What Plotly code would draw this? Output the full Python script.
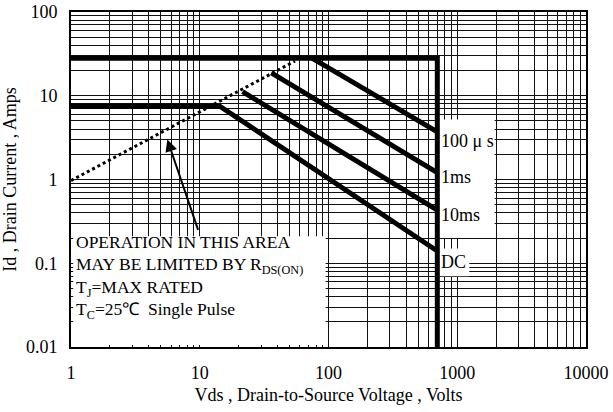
import math
import plotly.graph_objects as go

# ---- data ----
env_x = [1, 700, 700]          # outer limit: Id max (pulsed) and BVdss
env_y = [28, 28, 0.01]
dc_x = [1, 14.3, 700]
dc_y = [7.5, 7.5, 0.14]
us100_x = [75, 700]
us100_y = [28, 3.7]
ms1_x = [36, 700]
ms1_y = [18.8, 1.21]
ms10_x = [21.5, 700]
ms10_y = [11.2, 0.43]
rds_x = [1, 55]
rds_y = [0.97, 26]

curve_labels = ["100 μ s", "1ms", "10ms", "DC"]
curve_label_y = [2.9, 1.06, 0.38, 0.103]

x_major = [1, 10, 100, 1000, 10000]
x_major_text = ["1", "10", "100", "1000", "10000"]
y_major = [0.01, 0.1, 1, 10, 100]
y_major_text = ["0.01", "0.1", "1", "10", "100"]

box_lines = [
    "OPERATION IN THIS AREA",
    "MAY BE LIMITED BY R<sub>DS(ON)</sub>",
    "T<sub>J</sub>=MAX RATED",
    "T<sub>C</sub>=25℃  Single Pulse",
]
box_line_y = [0.178, 0.095, 0.050, 0.027]

FONT = "Liberation Serif, Times New Roman, serif"


def minors(majors):
    vals = []
    for m in majors[:-1]:
        for k in range(2, 10):
            vals.append(m * k)
    return vals


fig = go.Figure()
thick = dict(color="black", width=5)
for xs, ys in [(env_x, env_y), (dc_x, dc_y), (us100_x, us100_y),
               (ms1_x, ms1_y), (ms10_x, ms10_y)]:
    fig.add_trace(go.Scatter(x=xs, y=ys, mode="lines", line=thick,
                             showlegend=False, hoverinfo="skip"))
fig.add_trace(go.Scatter(x=rds_x, y=rds_y, mode="lines",
                         line=dict(color="black", width=3, dash="dot"),
                         showlegend=False, hoverinfo="skip"))

shapes = [
    dict(type="rect", xref="x", yref="y", x0=1.04, x1=95, y0=0.0106, y1=0.21,
         fillcolor="white", line=dict(width=0), layer="between"),
    dict(type="rect", xref="x", yref="y", x0=710, x1=1950, y0=0.20, y1=5.2,
         fillcolor="white", line=dict(width=0), layer="between"),
    dict(type="rect", xref="x", yref="y", x0=710, x1=1240, y0=0.07, y1=0.15,
         fillcolor="white", line=dict(width=0), layer="between"),
]

annots = []
for t, y in zip(box_lines, box_line_y):
    annots.append(dict(x=math.log10(1.05), y=math.log10(y), xref="x", yref="y",
                       text=t, showarrow=False, xanchor="left", yanchor="middle",
                       font=dict(family=FONT, size=17.5, color="black")))
for t, y in zip(curve_labels, curve_label_y):
    annots.append(dict(x=math.log10(720), y=math.log10(y), xref="x", yref="y",
                       text=t, showarrow=False, xanchor="left", yanchor="middle",
                       font=dict(family=FONT, size=18, color="black")))
annots.append(dict(x=math.log10(5.6), y=math.log10(3.0), xref="x", yref="y",
                   ax=math.log10(9.8), ay=math.log10(0.24), axref="x", ayref="y",
                   text="", showarrow=True, arrowhead=2, arrowsize=1.2,
                   arrowwidth=2, arrowcolor="black"))

axis_common = dict(type="log", showgrid=True, gridcolor="#111", gridwidth=1,
                   showline=True, linecolor="black", linewidth=2, mirror=True,
                   ticks="outside", tickcolor="rgba(0,0,0,0)",
                   zeroline=False, automargin=False,
                   tickfont=dict(family=FONT, size=18, color="black"))

fig.update_layout(
    width=613, height=412,
    margin=dict(l=71, r=27, t=12, b=65),
    paper_bgcolor="white", plot_bgcolor="white",
    font=dict(family=FONT, color="black"),
    shapes=shapes, annotations=annots,
    xaxis=dict(axis_common, range=[0, 4], tickmode="array", tickvals=x_major,
               ticktext=x_major_text, ticklen=8,
               minor=dict(tickvals=minors(x_major), showgrid=True,
                          gridcolor="#111", gridwidth=1, ticks=""),
               title=dict(text="Vds , Drain-to-Source Voltage , Volts",
                          font=dict(family=FONT, size=18, color="black"),
                          standoff=7)),
    yaxis=dict(axis_common, range=[-2, 2], tickmode="array", tickvals=y_major,
               ticktext=y_major_text, ticklen=8,
               minor=dict(tickvals=minors(y_major), showgrid=True,
                          gridcolor="#111", gridwidth=1, ticks=""),
               title=dict(text="Id , Drain Current , Amps",
                          font=dict(family=FONT, size=18, color="black"),
                          standoff=6)),
)

fig.write_html("out.html", config={"displayModeBar": False},
               post_script="document.body.style.margin='0';")
